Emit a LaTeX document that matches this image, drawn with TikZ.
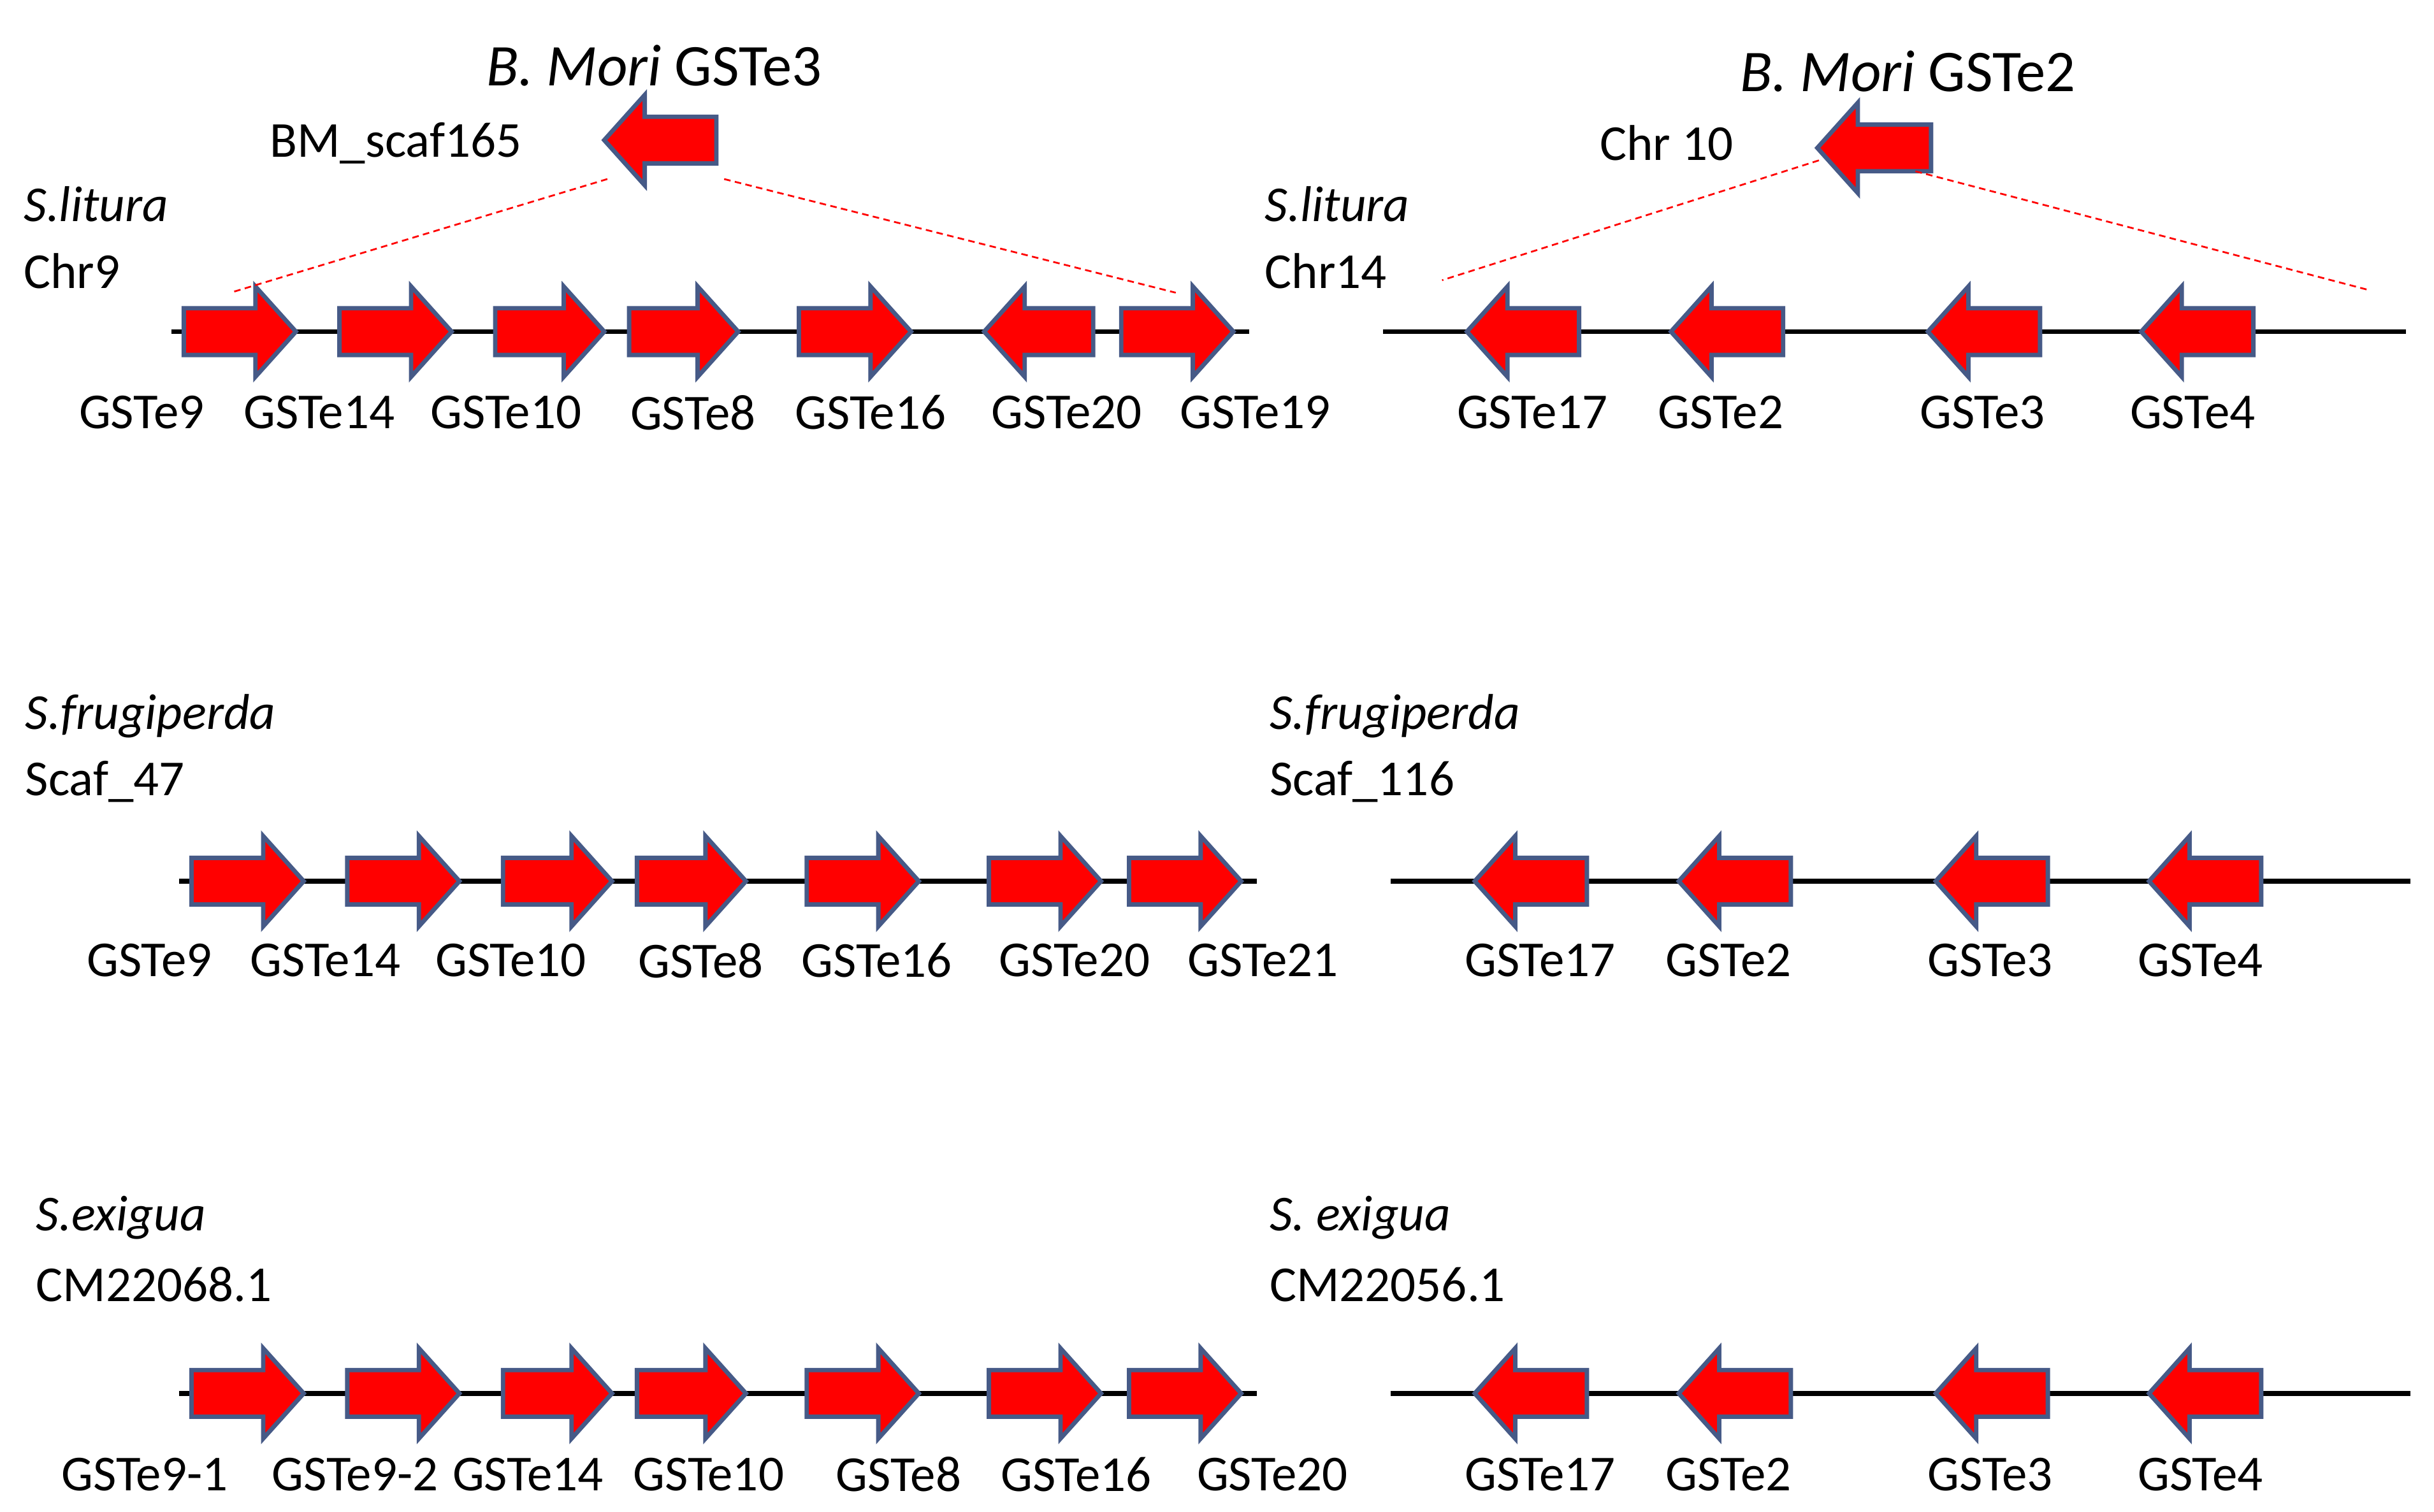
\documentclass[tikz,border=0pt]{standalone}
\usepackage{fontspec}
\setmainfont{Carlito}
\begin{document}
\begin{tikzpicture}[x=0.25mm,y=-0.25mm,
  chrom/.style={line width=2.2pt,black},
  gene/.style={fill=red,draw={rgb,255:red,70;green,90;blue,135},line width=2pt,line join=miter},
  lab/.style={font=\fontsize{23}{27}\selectfont,inner sep=0pt},
  sp/.style={font=\fontsize{23}{27}\selectfont\itshape,inner sep=0pt,anchor=west},
  big/.style={font=\fontsize{27}{31}\selectfont,inner sep=0pt},
  syn/.style={red,dashed,line width=0.8pt,dash pattern=on 3pt off 2pt}]
\useasboundingbox (0,0) rectangle (1563,971);
\newcommand\garR[3]{\draw[gene] (#1,#3-15) -- (#2-26,#3-15) -- (#2-26,#3-29) -- (#2,#3) -- (#2-26,#3+29) -- (#2-26,#3+15) -- (#1,#3+15) -- cycle;}
\newcommand\garL[3]{\draw[gene] (#2,#3-15) -- (#1+26,#3-15) -- (#1+26,#3-29) -- (#1,#3) -- (#1+26,#3+29) -- (#1+26,#3+15) -- (#2,#3+15) -- cycle;}
% Row 1
\draw[chrom] (110,213) -- (802,213);
\draw[chrom] (888,213) -- (1545,213);
\garR{118}{190}{213}\garR{218}{290}{213}\garR{318}{388}{213}\garR{404}{474}{213}\garR{513}{585}{213}\garL{632}{702}{213}\garR{720}{792}{213}
\garL{942}{1014}{213}\garL{1073}{1145}{213}\garL{1238}{1310}{213}\garL{1375}{1447}{213}
\foreach \x/\t in {91/GSTe9,205/GSTe14,325/GSTe10,445/GSTe8,559/GSTe16,685/GSTe20,806/GSTe19,984/GSTe17,1105/GSTe2,1273/GSTe3,1408/GSTe4}
  \node[lab] at (\x,265) {\t};
\node[sp] (s1) at (15,131) {S.litura};
\node[lab,anchor=west] (c1) at (15,174) {Chr9};
\node[sp] (s2) at (812,131) {S.litura};
\node[lab,anchor=west] (c2) at (812,174) {Chr14};
\node[big] (bm3) at (420,42) {\itshape B. Mori\upshape\ GSTe3};
\node[lab,anchor=west] (sc) at (173,92) {BM\_scaf165};
\garL{388}{460}{90}
\node[big] (bm2) at (1225,46) {\itshape B. Mori\upshape\ GSTe2};
\node[lab,anchor=west] (c10) at (1027,92) {Chr 10};
\garL{1167}{1240}{95}
\coordinate (a1) at (390,115); \coordinate (a2) at (148,188);
\coordinate (a3) at (465,115); \coordinate (a4) at (755,188);
\coordinate (b1) at (1168,103); \coordinate (b2) at (926,180);
\coordinate (b3) at (1230,110); \coordinate (b4) at (1520,186);
\draw[syn] (a1) -- (a2); \draw[syn] (a3) -- (a4);
\draw[syn] (b1) -- (b2); \draw[syn] (b3) -- (b4);
% Row 2
\draw[chrom] (115,566) -- (807,566);
\draw[chrom] (893,566) -- (1548,566);
\garR{123}{195}{566}\garR{223}{295}{566}\garR{323}{393}{566}\garR{409}{479}{566}\garR{518}{590}{566}\garR{635}{707}{566}\garR{725}{797}{566}
\garL{947}{1019}{566}\garL{1078}{1150}{566}\garL{1243}{1315}{566}\garL{1380}{1452}{566}
\foreach \x/\t in {96/GSTe9,209/GSTe14,328/GSTe10,450/GSTe8,563/GSTe16,690/GSTe20,811/GSTe21,989/GSTe17,1110/GSTe2,1278/GSTe3,1413/GSTe4}
  \node[lab] at (\x,617) {\t};
\node[sp] at (16,460) {S.frugiperda};
\node[lab,anchor=west] at (16,502) {Scaf\_47};
\node[sp] at (815,460) {S.frugiperda};
\node[lab,anchor=west] at (815,502) {Scaf\_116};
% Row 3
\draw[chrom] (115,895) -- (807,895);
\draw[chrom] (893,895) -- (1548,895);
\garR{123}{195}{895}\garR{223}{295}{895}\garR{323}{393}{895}\garR{409}{479}{895}\garR{518}{590}{895}\garR{635}{707}{895}\garR{725}{797}{895}
\garL{947}{1019}{895}\garL{1078}{1150}{895}\garL{1243}{1315}{895}\garL{1380}{1452}{895}
\foreach \x/\t in {93/GSTe9-1,228/GSTe9-2,339/GSTe14,455/GSTe10,577/GSTe8,691/GSTe16,817/GSTe20,989/GSTe17,1110/GSTe2,1278/GSTe3,1413/GSTe4}
  \node[lab] at (\x,947) {\t};
\node[sp] at (23,782) {S.exigua};
\node[lab,anchor=west] at (23,825) {CM22068.1};
\node[sp] at (815,782) {S. exigua};
\node[lab,anchor=west] at (815,825) {CM22056.1};
\end{tikzpicture}
\end{document}
